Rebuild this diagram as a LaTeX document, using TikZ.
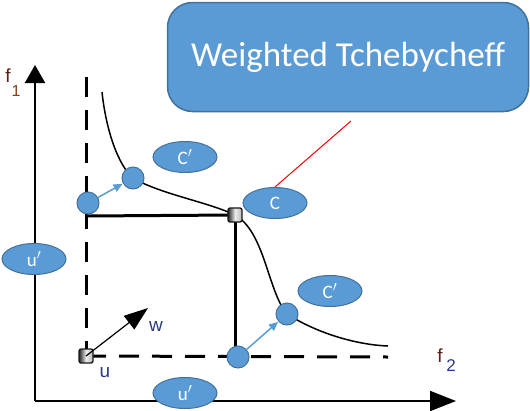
\documentclass[tikz,border=0pt]{standalone}
\usepackage{fontspec}
\setmainfont{Carlito}
\newfontfamily\arialf{Liberation Sans}
\usetikzlibrary{arrows.meta,shapes.geometric}
\definecolor{bfill}{HTML}{5B9BD5}
\definecolor{bdraw}{HTML}{41719C}
\definecolor{fbrown}{HTML}{5A1E14}
\definecolor{sorange}{HTML}{8A3E10}
\definecolor{dblue}{HTML}{2A3A80}
\pgfdeclarelayer{background}
\pgfsetlayers{background,main}
\begin{document}
\begin{tikzpicture}[x=1pt,y=-1pt,
  lab/.style={ellipse, fill=bfill, draw=bdraw, line width=1pt, minimum width=64pt, minimum height=31pt, inner sep=0pt, text=white, font=\fontsize{19}{19}\selectfont},
  ptc/.style={circle, fill=bfill, draw=bdraw, line width=1pt, minimum size=22pt, inner sep=0pt},
  sq/.style={rectangle, rounded corners=2pt, minimum size=14pt, inner sep=0pt, draw=black!90, line width=1.3pt, left color=black!85, right color=gray!55, middle color=gray!15},
  axis/.style={line width=2pt, black},
  dsh/.style={line width=3pt, black, dash pattern=on 20pt off 13pt},
  sol/.style={line width=3pt, black},
  barrow/.style={line width=1.5pt, bfill, -{Triangle[length=9pt,width=8pt]}, shorten >=0.5pt},
  txt/.style={inner sep=0pt, font=\arialf\fontsize{19}{19}\selectfont}
]
\useasboundingbox (0,0) rectangle (530,410);

% title box
\node[fill=bfill, draw=bdraw, line width=1.5pt, rounded corners=25pt, minimum width=361pt, minimum height=109pt, inner sep=0pt, text=white, font=\fontsize{35}{35}\selectfont] (title) at (348,57) {Weighted Tchebycheff};

% coordinates
\coordinate (origin) at (35,401);
\coordinate (ytip) at (35,65);
\coordinate (xtip) at (456,401);
\coordinate (dtop) at (86,77);
\coordinate (dend) at (388,357);
\coordinate (hl) at (86,216);
\coordinate (vb) at (235,357);
\coordinate (wtip) at (148,308);
\coordinate (redtop) at (351,121);
\coordinate (ctop) at (102,92);
\coordinate (cend) at (388,346);

% points
\node[sq] (u) at (86,356) {};
\node[sq] (c) at (235,215) {};
\node[ptc] (p1) at (88,203) {};
\node[ptc] (p2) at (133,178) {};
\node[ptc] (p3) at (287,314) {};
\node[ptc] (p4) at (238,357) {};

% ellipses
\node[lab] (cp1) at (185,157) {C$'$};
\node[lab] (C) at (275,203) {C};
\node[lab] (cp2) at (330,291) {C$'$};
\node[lab] (up1) at (34,259) {u$'$};
\node[lab] (up2) at (185,393) {u$'$};

% labels
\node[txt, text=fbrown] (f1f) at (8,76) {f};
\node[txt, text=sorange, font=\arialf\fontsize{16}{16}\selectfont] (f1s) at (16,91) {1};
\node[txt, text=fbrown] (f2f) at (440,356) {f};
\node[txt, text=dblue, font=\arialf\fontsize{17}{17}\selectfont] (f2s) at (451,366) {2};
\node[txt, text=dblue] (ulab) at (105,373) {u};
\node[txt, text=dblue] (wlab) at (156,326) {w};

\begin{pgfonlayer}{background}
  % axes
  \draw[axis, -{Triangle[length=18pt,width=20pt]}] (origin) -- (ytip);
  \draw[axis, -{Triangle[length=26pt,width=20pt]}] (origin) -- (xtip);
  % dashed
  \draw[dsh] (dtop) -- (u.center);
  \draw[dsh] (u.center) -- (dend);
  % solid
  \draw[sol] (hl) -- (c.center);
  \draw[sol] (c.center) -- (vb);
  % curve
  \draw[line width=1.5pt] (ctop) .. controls (106,130) and (118,165) .. (p2.center)
     .. controls (160,194) and (208,202) .. (c.center)
     .. controls (265,232) and (268,292) .. (p3.center)
     .. controls (320,335) and (360,345) .. (cend);
  % red line
  \draw[red, line width=1pt] (redtop) -- (C.north);
\end{pgfonlayer}

% arrows
\draw[line width=1.2pt, -{Triangle[length=24pt,width=17pt]}] (u.center) -- (wtip);
\draw[barrow] (p1) -- (p2);
\draw[barrow] (p4) -- (p3);
\end{tikzpicture}
\end{document}
